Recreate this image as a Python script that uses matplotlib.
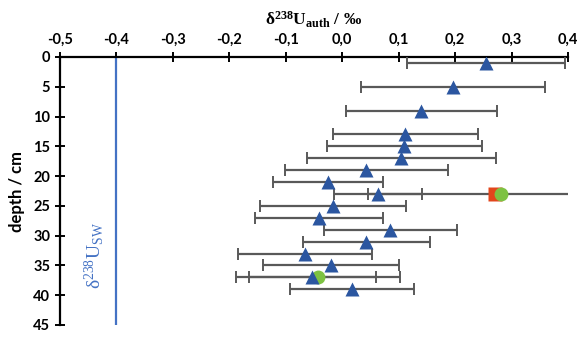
import matplotlib
matplotlib.use('Agg')
import matplotlib.pyplot as plt

# sample depths (cm) and authigenic d238U values (permil) with 2SD errors
depth = [1, 5, 9, 13, 15, 17, 19, 21, 23, 25, 27, 29, 31, 33, 35, 37, 39]
d238u = [0.255, 0.197, 0.140, 0.112, 0.110, 0.105, 0.043, -0.025, 0.064,
         -0.016, -0.041, 0.085, 0.043, -0.066, -0.020, -0.053, 0.018]
err = [0.140, 0.163, 0.134, 0.128, 0.137, 0.168, 0.145, 0.098, 0.078,
       0.129, 0.114, 0.118, 0.113, 0.119, 0.121, 0.113, 0.110]

# replicate measurements
sq_depth = [23]
sq_val = [0.270]
circ_depth = [23, 37]
circ_val = [0.282, -0.043]
circ_err = [0.237, 0.145]

# seawater value
sw_val = -0.40
sw_depth = [0, 45]

xticks = [-0.5, -0.4, -0.3, -0.2, -0.1, 0.0, 0.1, 0.2, 0.3, 0.4]
xlabels = ['-0,5', '-0,4', '-0,3', '-0,2', '-0,1', '0,0', '0,1', '0,2', '0,3', '0,4']
yticks = [0, 5, 10, 15, 20, 25, 30, 35, 40, 45]

plt.rcParams['mathtext.fontset'] = 'custom'
plt.rcParams['mathtext.rm'] = 'Liberation Serif'
plt.rcParams['mathtext.bf'] = 'Liberation Serif:bold'

fig = plt.figure(figsize=(5.82, 3.37), dpi=100)
ax = fig.add_axes([60 / 582, 12 / 337, 508 / 582, 268 / 337])

grey = '#595959'
ax.plot([sw_val, sw_val], sw_depth, color='#4472C4', lw=1.6, zorder=2)

ax.errorbar(circ_val, circ_depth, xerr=circ_err, fmt='none', ecolor=grey,
            elinewidth=1.6, capsize=4, capthick=1.4, zorder=3)
ax.errorbar(d238u, depth, xerr=err, fmt='none', ecolor=grey,
            elinewidth=1.6, capsize=4, capthick=1.4, zorder=3)
ax.plot(sq_val, sq_depth, 's', color='#E2461C', ms=9.5, mec='none', zorder=4)
ax.plot(circ_val, circ_depth, 'o', color='#7DC242', ms=10, mec='none', zorder=5)
ax.plot(d238u, depth, '^', color='#2B56A0', ms=10.5, mec='none', zorder=6)

ax.set_xlim(-0.5, 0.4)
ax.set_ylim(45, 0)
ax.xaxis.tick_top()
ax.xaxis.set_label_position('top')
ax.set_xticks(xticks)
ax.set_xticklabels(xlabels)
ax.set_yticks(yticks)
ax.spines['right'].set_visible(False)
ax.spines['bottom'].set_visible(False)
ax.spines['top'].set_linewidth(1.6)
ax.spines['left'].set_linewidth(1.6)
ax.tick_params(direction='inout', length=7, width=1.4, labelsize=10.5)
for lab in ax.get_xticklabels() + ax.get_yticklabels():
    lab.set_fontweight('bold')
    lab.set_fontfamily('Lato')

ax.set_xlabel(r'$\mathbf{δ^{238}U_{auth}}$ / ‰', fontsize=12.5,
              fontfamily='Liberation Serif', fontweight='bold', labelpad=6)
ax.set_ylabel('depth / cm', fontsize=12, fontfamily='Lato',
              fontweight='bold', labelpad=6)

ax.text(-0.440, 33.3, r'$\mathrm{δ^{238}U_{SW}}$', rotation=90,
        color='#4472C4', fontsize=14, ha='center', va='center',
        fontfamily='Liberation Serif')

plt.savefig('out.png', dpi=100)
